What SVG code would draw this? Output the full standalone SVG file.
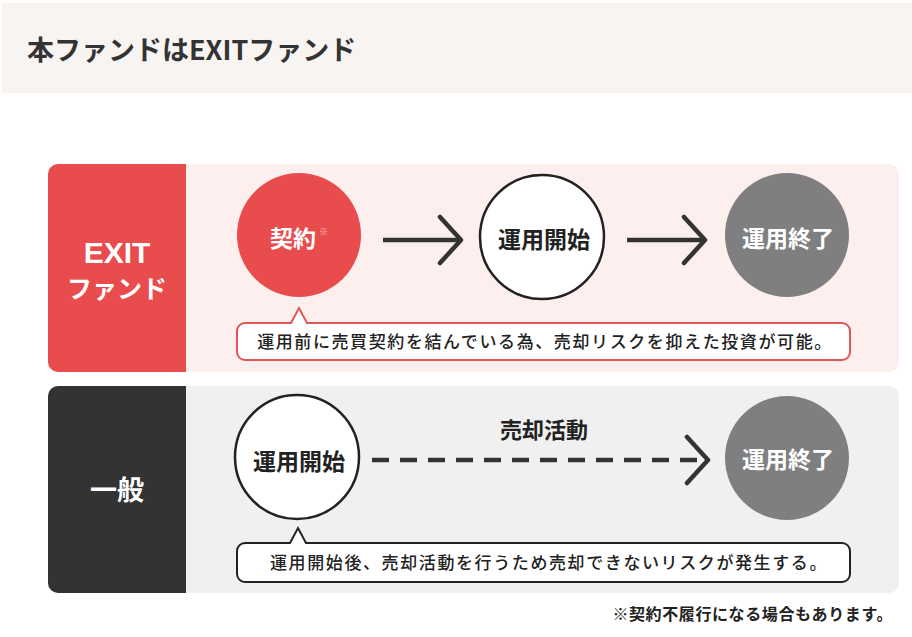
<svg xmlns="http://www.w3.org/2000/svg" width="912" height="637" viewBox="0 0 912 637">
<style>
text{font-family:"Noto Sans CJK JP","Noto Sans",sans-serif;font-weight:700}
.w{fill:#fff}
.d{fill:#222}
.lbl{font-size:23px;text-anchor:middle}
.side{text-anchor:middle;fill:#fff}
.bub{font-size:17px;font-weight:500;fill:#222;letter-spacing:1.6px;text-anchor:middle}
.line{stroke:#333;stroke-width:4.5;fill:none}
.wc{fill:#fff;stroke:#222;stroke-width:2.5}
</style>
<defs>
<marker id="chev" viewBox="0 0 28 52" refX="24" refY="26" markerWidth="28" markerHeight="52" markerUnits="userSpaceOnUse" orient="auto">
<path d="M3,3 L24,26 L3,49" fill="none" stroke="#333" stroke-width="4.5" stroke-linecap="round" stroke-linejoin="round"/>
</marker>
</defs>
<rect width="912" height="637" fill="#fff"/>
<g id="header">
<rect x="2" y="3" width="910" height="90" fill="#f8f4f2"/>
<text x="27" y="60" font-size="27" fill="#333">本ファンドはEXITファンド</text>
</g>
<g id="panel-exit">
<rect x="48" y="164" width="851" height="208" rx="10" fill="#fcefee"/>
<path d="M58,164 H186 V372 H58 A10,10 0 0 1 48,362 V174 A10,10 0 0 1 58,164 Z" fill="#e84c4c"/>
<text class="side" x="117" y="263" font-size="30" style="font-family:'Liberation Sans',Arial,sans-serif">EXIT</text>
<text class="side" x="117" y="298" font-size="25">ファンド</text>
</g>
<g id="panel-general">
<rect x="48" y="386" width="851" height="207" rx="10" fill="#f0f0f0"/>
<path d="M58,386 H186 V593 H58 A10,10 0 0 1 48,583 V396 A10,10 0 0 1 58,386 Z" fill="#333"/>
<text class="side" x="117" y="500" font-size="27">一般</text>
</g>
<g id="connectors">
<line class="line" x1="383" y1="240" x2="461" y2="240" marker-end="url(#chev)"/>
<line class="line" x1="627" y1="240" x2="705" y2="240" marker-end="url(#chev)"/>
<line class="line" x1="372" y1="460" x2="708" y2="460" stroke-width="5" stroke-dasharray="17 11" marker-end="url(#chev)"/>
<text x="544" y="438" font-size="22" class="d" text-anchor="middle">売却活動</text>
</g>
<g id="node-contract">
<circle cx="299" cy="235" r="62" fill="#e84c4c"/>
<text class="lbl w" x="293" y="247" font-size="22">契約</text>
<text x="319" y="235" font-size="9" fill="#f6c0c0" font-weight="400">※</text>
</g>
<g id="node-start-exit">
<circle class="wc" cx="542" cy="237" r="62"/>
<text class="lbl d" x="544" y="248">運用開始</text>
</g>
<g id="node-end-exit">
<circle cx="787" cy="235" r="62" fill="#7f7f7f"/>
<text class="lbl w" x="788" y="247">運用終了</text>
</g>
<g id="note-exit">
<path d="M245,323 H291 L299,308 L307,323 H842 A8,8 0 0 1 850,331 V352 A8,8 0 0 1 842,360 H245 A8,8 0 0 1 237,352 V331 A8,8 0 0 1 245,323 Z" fill="#fff" stroke="#e05555" stroke-width="2"/>
<text class="bub" x="545" y="348">運用前に売買契約を結んでいる為、売却リスクを抑えた投資が可能。</text>
</g>
<g id="node-start-general">
<circle class="wc" cx="297" cy="457" r="62"/>
<text class="lbl d" x="299" y="470">運用開始</text>
</g>
<g id="node-end-general">
<circle cx="787" cy="458" r="62" fill="#7f7f7f"/>
<text class="lbl w" x="788" y="468">運用終了</text>
</g>
<g id="note-general">
<path d="M245,543 H290 L298,528 L306,543 H842 A8,8 0 0 1 850,551 V574 A8,8 0 0 1 842,582 H245 A8,8 0 0 1 237,574 V551 A8,8 0 0 1 245,543 Z" fill="#fff" stroke="#222" stroke-width="2"/>
<text class="bub" x="549" y="569">運用開始後、売却活動を行うため売却できないリスクが発生する。</text>
</g>
<g id="footnote">
<text x="893" y="620" font-size="16" font-weight="500" fill="#222" text-anchor="end" letter-spacing="0.6">※契約不履行になる場合もあります。</text>
</g>
</svg>
